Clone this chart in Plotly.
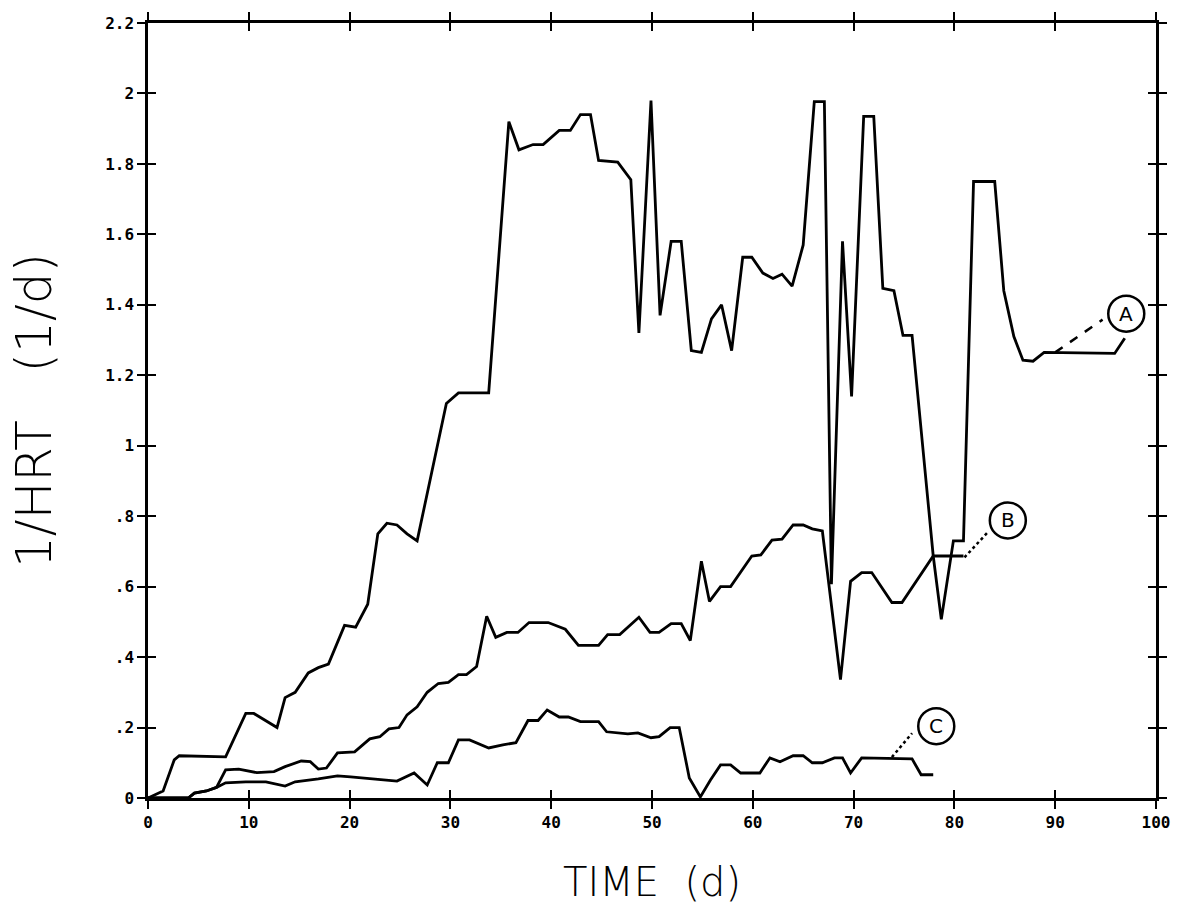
import plotly.graph_objects as go

# ---- data ----
a_day = [0, 1.5, 2.6, 3.1, 7.7, 9.7, 10.5, 12.8, 13.6, 14.6, 15.9, 16.9, 17.9, 19.5, 20.6, 21.8,
         22.8, 23.7, 24.7, 25.7, 26.7, 29.6, 30.8, 33.8, 35.8, 36.8, 38.2, 39.2, 40.8, 41.9, 42.9,
         43.9, 44.7, 46.6, 47.9, 48.7, 49.9, 50.8, 51.9, 52.9, 53.9, 54.9, 55.9, 56.9, 57.9, 59.0,
         59.9, 61.0, 62.0, 62.9, 63.9, 65.0, 66.1, 67.1, 67.8, 68.9, 69.8, 71.0, 72.0, 72.9, 74.0,
         74.9, 75.8, 77.9, 78.7, 79.7, 79.9, 80.9, 81.9, 84.0, 84.9, 85.9, 86.8, 87.8, 88.9, 95.9, 96.9]
a_val = [0, 0.02, 0.108, 0.12, 0.117, 0.24, 0.24, 0.20, 0.285, 0.30, 0.355, 0.37, 0.38, 0.49, 0.485, 0.55,
         0.75, 0.78, 0.775, 0.75, 0.73, 1.12, 1.15, 1.15, 1.92, 1.84, 1.855, 1.855, 1.895, 1.895, 1.94,
         1.94, 1.81, 1.805, 1.755, 1.32, 1.98, 1.37, 1.58, 1.58, 1.27, 1.265, 1.36, 1.40, 1.27, 1.535,
         1.535, 1.49, 1.475, 1.487, 1.453, 1.57, 1.977, 1.977, 0.607, 1.58, 1.14, 1.935, 1.935, 1.447, 1.44,
         1.313, 1.313, 0.687, 0.507, 0.687, 0.73, 0.73, 1.75, 1.75, 1.44, 1.31, 1.243, 1.24, 1.265, 1.262, 1.305]

b_day = [0, 4.0, 4.6, 5.8, 6.8, 7.7, 9.0, 10.8, 12.5, 13.6, 15.2, 16.1, 16.9, 17.7, 18.8, 20.5, 22.0,
         23.0, 23.9, 24.9, 25.7, 26.7, 27.7, 28.8, 29.8, 30.8, 31.6, 32.6, 33.6, 34.5, 35.6, 36.7, 37.8,
         39.7, 41.4, 42.7, 44.7, 45.6, 46.8, 48.7, 49.8, 50.7, 51.9, 52.9, 53.8, 54.9, 55.7, 56.8, 57.8,
         59.9, 60.8, 61.9, 62.9, 64.0, 65.0, 65.9, 66.9, 68.7, 69.7, 70.8, 71.8, 73.8, 74.8, 77.9, 80.9]
b_val = [0, 0, 0.014, 0.02, 0.03, 0.08, 0.082, 0.072, 0.075, 0.089, 0.105, 0.103, 0.082, 0.085, 0.128, 0.131, 0.168,
         0.174, 0.196, 0.2, 0.236, 0.259, 0.30, 0.325, 0.328, 0.35, 0.35, 0.373, 0.516, 0.456, 0.47, 0.47, 0.498,
         0.498, 0.479, 0.433, 0.433, 0.464, 0.464, 0.513, 0.47, 0.47, 0.495, 0.495, 0.447, 0.672, 0.558, 0.60, 0.60,
         0.687, 0.69, 0.732, 0.735, 0.775, 0.775, 0.764, 0.758, 0.336, 0.615, 0.64, 0.64, 0.555, 0.555, 0.687, 0.687]

c_day = [0, 4.0, 4.6, 5.8, 6.8, 7.7, 9.7, 11.7, 13.6, 14.6, 16.9, 18.8, 20.1, 22.1, 24.7, 26.4, 27.7,
         28.7, 29.8, 30.8, 31.9, 33.8, 35.2, 36.5, 37.7, 38.7, 39.6, 40.8, 41.7, 42.9, 44.7, 45.5, 47.6,
         48.6, 49.9, 50.7, 51.8, 52.7, 53.7, 54.8, 55.8, 56.8, 57.8, 58.8, 60.7, 61.7, 62.7, 64.0, 65.0,
         65.9, 66.9, 68.1, 68.9, 69.7, 70.8, 75.8, 76.7, 77.9]
c_val = [0, 0, 0.014, 0.02, 0.03, 0.043, 0.046, 0.046, 0.034, 0.046, 0.054, 0.063, 0.06, 0.054, 0.048, 0.071, 0.037,
         0.10, 0.10, 0.165, 0.165, 0.142, 0.151, 0.157, 0.22, 0.22, 0.25, 0.23, 0.23, 0.217, 0.217, 0.188, 0.182,
         0.185, 0.171, 0.174, 0.20, 0.20, 0.057, 0.003, 0.051, 0.094, 0.094, 0.071, 0.071, 0.114, 0.103, 0.12, 0.12,
         0.10, 0.10, 0.114, 0.114, 0.071, 0.114, 0.111, 0.066, 0.066]

x_ticks = [0, 10, 20, 30, 40, 50, 60, 70, 80, 90, 100]
x_tick_labels = ["0", "10", "20", "30", "40", "50", "60", "70", "80", "90", "100"]
y_ticks = [0, 0.2, 0.4, 0.6, 0.8, 1.0, 1.2, 1.4, 1.6, 1.8, 2.0, 2.2]
y_tick_labels = ["0", ".2", ".4", ".6", ".8", "1", "1.2", "1.4", "1.6", "1.8", "2", "2.2"]

# curve labels: (letter, circle centre x, y, leader start x, y, leader end x, y, dash)
labels = [
    ("A", 97.05, 1.375, 90.0, 1.265, 94.7, 1.358, "dash"),
    ("B", 85.3, 0.788, 81.0, 0.683, 83.3, 0.754, "dot"),
    ("C", 78.2, 0.204, 73.8, 0.116, 75.8, 0.184, "dot"),
]

# ---- figure ----
fig = go.Figure()
for xs, ys in [(a_day, a_val), (b_day, b_val), (c_day, c_val)]:
    fig.add_trace(go.Scatter(x=xs, y=ys, mode="lines", line=dict(color="black", width=2.8),
                             showlegend=False, hoverinfo="skip"))

# dummy trace on overlay axes to get crossing (inside) ticks
fig.add_trace(go.Scatter(x=[0], y=[0], xaxis="x2", yaxis="y2", mode="markers",
                         marker=dict(opacity=0), showlegend=False, hoverinfo="skip"))

tickfont = dict(family="DejaVu Sans Mono", size=16, color="black", weight="bold")
common_x = dict(range=[0, 100], tickvals=x_ticks, showgrid=False, zeroline=False,
                showline=True, linecolor="black", linewidth=2.5, tickcolor="black",
                tickwidth=2, ticklen=8, mirror="ticks")
common_y = dict(range=[0, 2.2], tickvals=y_ticks, showgrid=False, zeroline=False,
                showline=True, linecolor="black", linewidth=2.5, tickcolor="black",
                tickwidth=2, ticklen=8, mirror="ticks")

fig.update_layout(
    width=1182, height=916,
    margin=dict(l=148, r=15, t=22, b=118),
    paper_bgcolor="white", plot_bgcolor="white",
    xaxis=dict(**common_x, ticks="outside", ticktext=x_tick_labels, tickfont=tickfont,
               title=dict(text="TIME  (d)", font=dict(family="DejaVu Sans", size=40, color="black",
                                                     weight=200), standoff=38)),
    yaxis=dict(**common_y, ticks="outside", ticktext=y_tick_labels, tickfont=tickfont,
               title=dict(text="1/HRT   (1/d)", font=dict(family="DejaVu Sans", size=50, color="black",
                                                         weight=200), standoff=38)),
    xaxis2=dict(**common_x, ticks="inside", overlaying="x", anchor="y2", showticklabels=False),
    yaxis2=dict(**common_y, ticks="inside", overlaying="y", anchor="x2", showticklabels=False),
)

for letter, cx, cy, lx0, ly0, lx1, ly1, dash in labels:
    fig.add_shape(type="circle", xref="x", yref="y", xsizemode="pixel", ysizemode="pixel",
                  xanchor=cx, yanchor=cy, x0=-18, x1=18, y0=-18, y1=18,
                  line=dict(color="black", width=2.5))
    fig.add_annotation(x=cx, y=cy, xref="x", yref="y", text=letter, showarrow=False,
                       font=dict(family="DejaVu Sans", size=20, color="black"))
    fig.add_shape(type="line", xref="x", yref="y", x0=lx0, y0=ly0, x1=lx1, y1=ly1,
                  line=dict(color="black", width=2.5, dash=dash))

fig.write_html("out.html")
